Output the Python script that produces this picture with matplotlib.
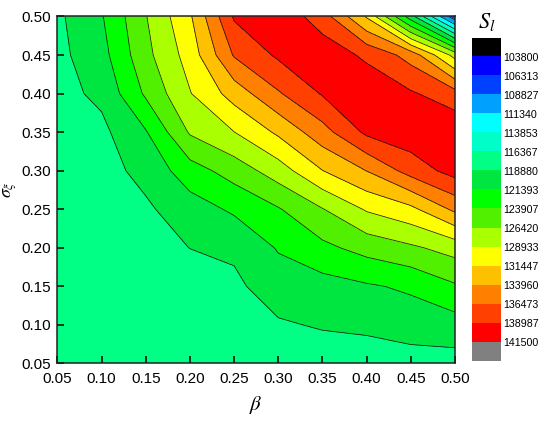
import numpy as np
import matplotlib
matplotlib.use("Agg")
import matplotlib.pyplot as plt
from matplotlib.colors import ListedColormap, BoundaryNorm

plt.rcParams['font.family'] = ['Liberation Sans', 'DejaVu Sans']
plt.rcParams['mathtext.fontset'] = 'stix'

# grid
beta = [0.05, 0.10, 0.15, 0.20, 0.25, 0.30, 0.35, 0.40, 0.45, 0.50]
sigma = [0.05, 0.10, 0.15, 0.20, 0.25, 0.30, 0.35, 0.40, 0.45, 0.50]

# S_l values, one row per sigma (bottom to top), columns follow beta
s_l = [
    [117200, 117300, 117350, 117400, 117450, 117500, 117500, 117500, 117800, 117900],
    [117300, 117400, 117500, 117600, 117800, 118600, 119100, 119400, 120000, 120300],
    [117400, 117500, 117700, 118000, 118400, 120100, 120400, 121100, 121800, 123600],
    [117600, 117800, 118200, 118900, 119300, 121600, 123300, 124800, 126000, 127400],
    [117800, 118000, 118500, 120200, 121800, 123700, 126300, 129200, 130800, 134500],
    [117900, 118000, 119600, 122800, 125000, 127700, 131400, 134000, 137500, 140000],
    [118000, 118300, 121200, 126700, 128900, 131900, 135500, 139500, 140600, 140900],
    [118100, 119400, 124300, 128800, 132500, 136200, 139200, 140800, 139300, 137500],
    [118200, 120500, 125700, 130000, 136700, 139400, 140500, 138500, 135500, 128000],
    [118400, 121200, 126300, 131100, 139300, 140800, 137700, 131200, 120000, 107000],
]

levels = [103800, 106313, 108827, 111340, 113853, 116367, 118880, 121393,
          123907, 126420, 128933, 131447, 133960, 136473, 138987, 141500]

# below-min, 15 bands, above-max
band_colors = ['#000000', '#0000ff', '#0040ff', '#00a0ff', '#00ffff', '#00ffc8',
               '#00ff84', '#00e640', '#00ff00', '#50f000', '#aaff00', '#ffff00',
               '#ffc000', '#ff8000', '#ff4000', '#ff0000', '#808080']

cmap = ListedColormap(band_colors[1:-1])
cmap.set_under(band_colors[0])
cmap.set_over(band_colors[-1])
norm = BoundaryNorm(levels, cmap.N)

fig = plt.figure(figsize=(5.5, 4.23), dpi=100)
ax = fig.add_axes([0.1045, 0.1407, 0.7227, 0.8203])

Z = np.array(s_l)
ax.contourf(beta, sigma, Z, levels=levels, cmap=cmap, norm=norm, extend='both')
ax.contour(beta, sigma, Z, levels=levels, colors='#1a1a1a', linewidths=0.55)

ax.set_xlim(beta[0], beta[-1])
ax.set_ylim(sigma[0], sigma[-1])
ax.set_xticks(beta)
ax.set_yticks(sigma)
ax.set_xticklabels(['%.2f' % b for b in beta])
ax.set_yticklabels(['%.2f' % s for s in sigma])
ax.tick_params(direction='in', length=5, width=1.1, labelsize=11, top=False, right=False)
ax.tick_params(axis='x', pad=6)
ax.tick_params(axis='y', pad=5)
for sp in ax.spines.values():
    sp.set_linewidth(1.1)
    sp.set_color('#222222')

ax.set_xlabel(r'$\beta$', fontsize=15, labelpad=6)
ax.set_ylabel(r'$\sigma_\xi$', fontsize=13)
ax.yaxis.set_label_coords(-0.098, 0.5)

# colour bar as boxes, labels on the boundaries
cax = fig.add_axes([0.858, 0.1466, 0.0527, 0.764])
cax.imshow(np.arange(len(band_colors))[:, None], cmap=ListedColormap(band_colors),
           aspect='auto', extent=[0, 1, len(band_colors), 0], interpolation='nearest')
cax.set_xticks([])
cax.set_yticks(range(1, len(levels) + 1))
cax.set_yticklabels([str(v) for v in levels])
cax.yaxis.tick_right()
cax.tick_params(length=0, labelsize=7.7, pad=2)
for sp in cax.spines.values():
    sp.set_visible(False)

fig.text(0.885, 0.948, r'$S_l$', fontsize=16, ha='center', va='center')

fig.savefig('out.png', dpi=100)
